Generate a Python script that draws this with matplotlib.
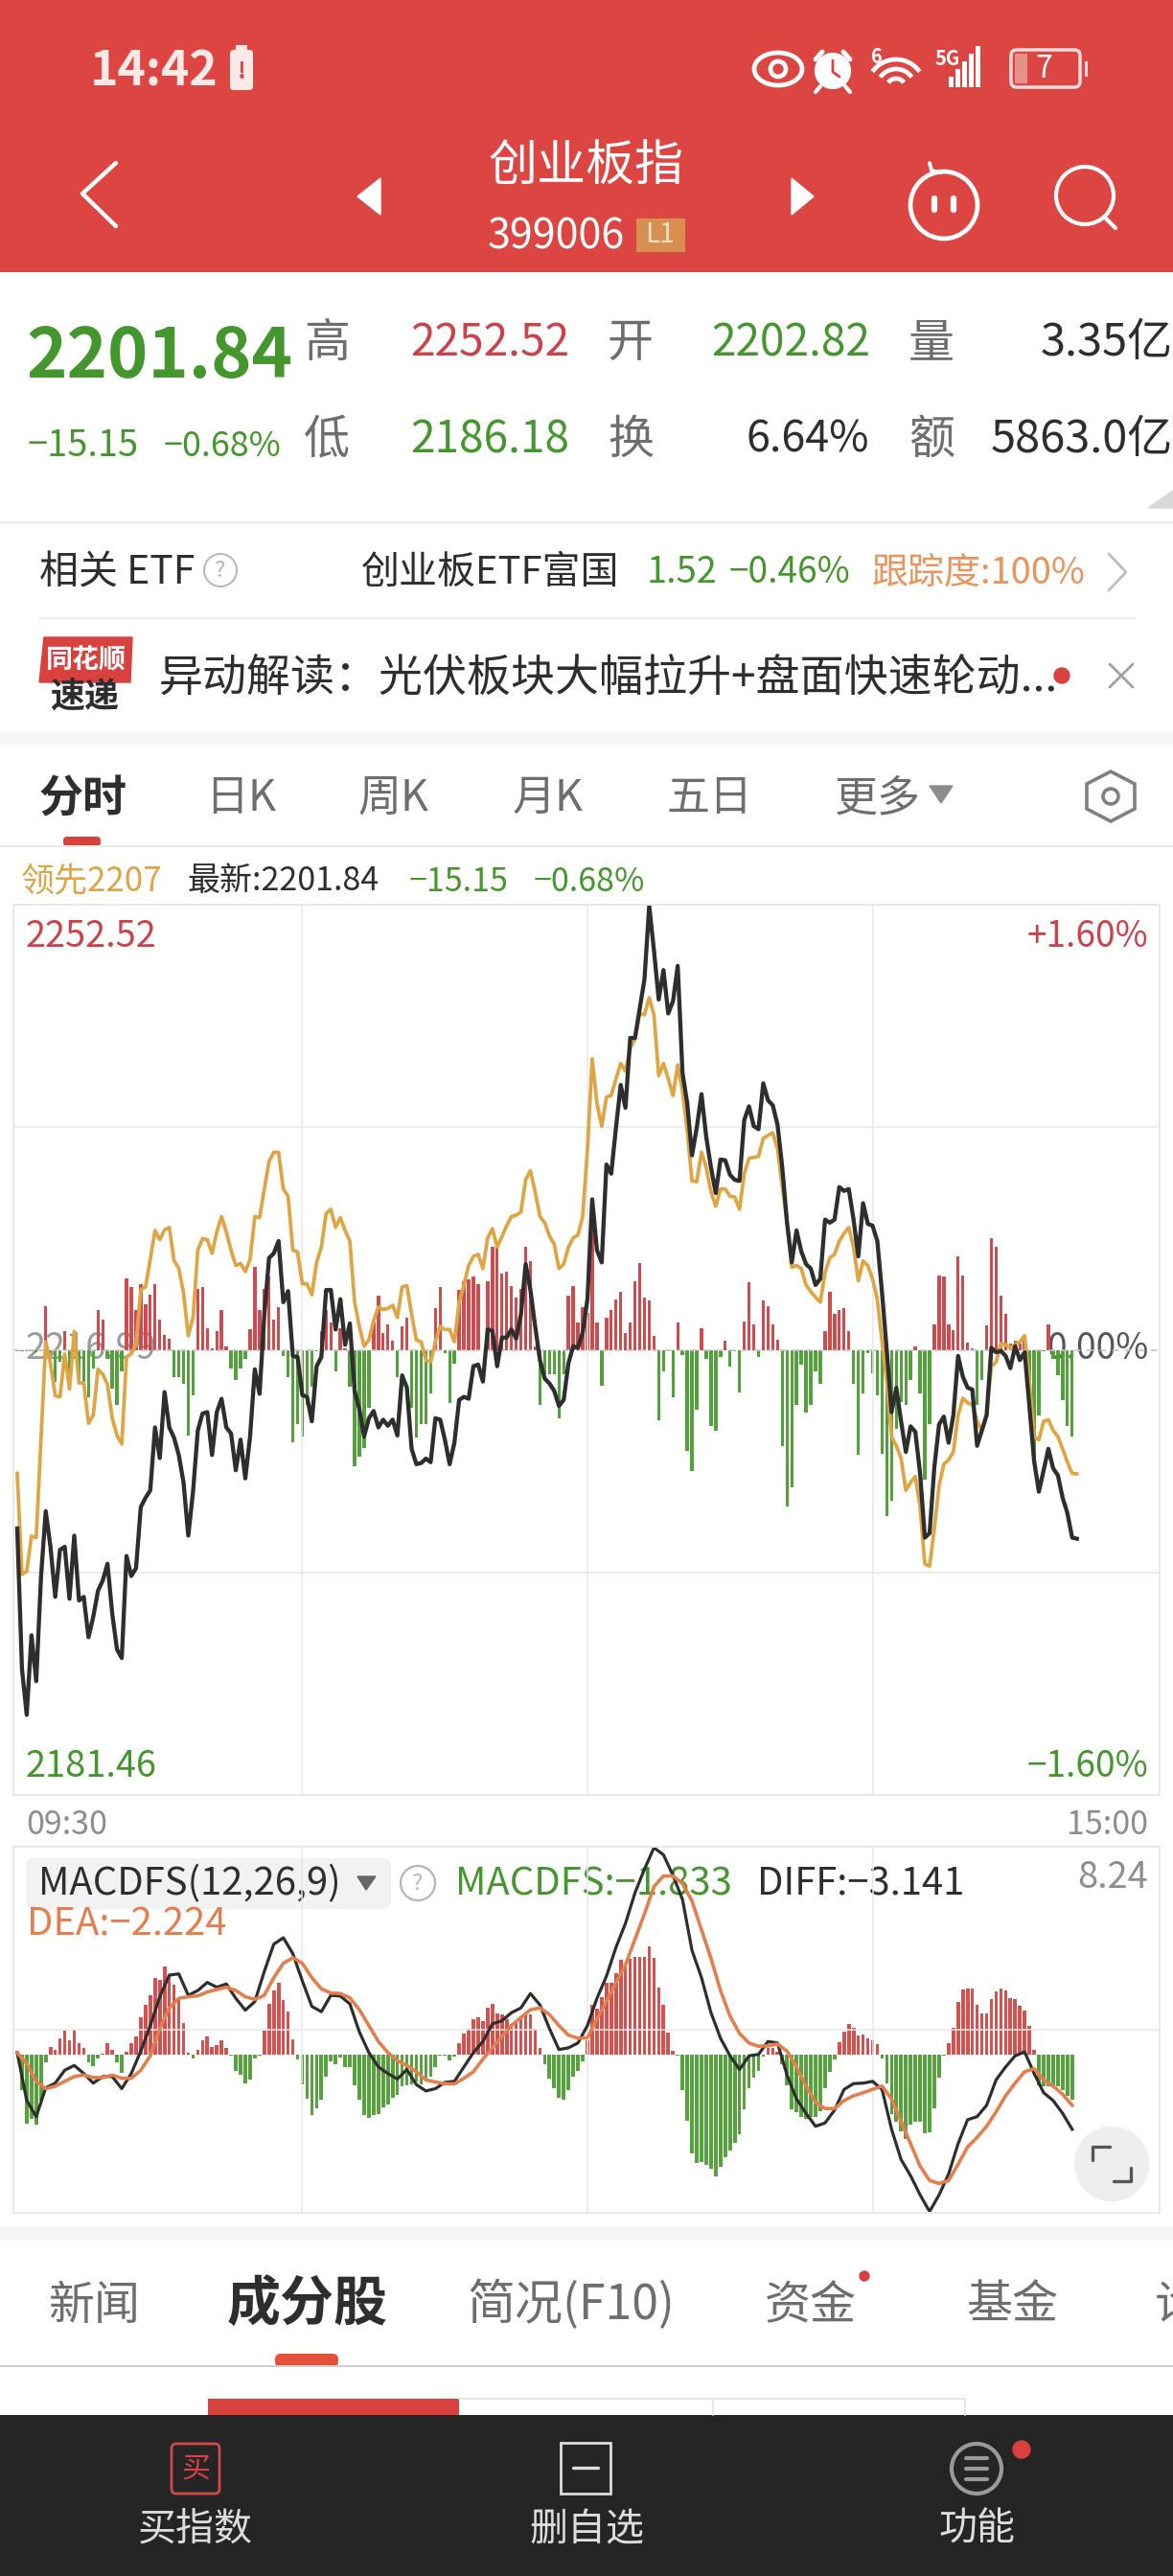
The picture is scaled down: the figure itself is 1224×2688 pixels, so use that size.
import numpy as np
import matplotlib
matplotlib.use('Agg')
import matplotlib.pyplot as plt
from matplotlib.patches import Rectangle, Circle, FancyBboxPatch, Polygon, Arc

plt.rcParams['font.family'] = ['Noto Sans CJK SC', 'DejaVu Sans']

# index line, % change from prior close, one reading per minute
index_pct = [
    -0.642, -1.147, -1.312, -1.026, -1.191, -0.818, -0.580, -0.708, -0.888, -0.719, -0.708, -0.895,
    -0.668, -0.901, -0.888, -1.033, -0.960, -0.866, -0.829, -0.769, -0.949, -1.077, -1.108, -0.741,
    -0.813, -0.785, -0.565, -0.532, -0.505, -0.279, -0.389, -0.152, -0.279, -0.316, -0.378, -0.477,
    -0.668, -0.510, -0.290, -0.229, -0.224, -0.378, -0.224, -0.176, -0.279, -0.301, -0.433, -0.323,
    -0.462, -0.312, -0.070, -0.158, 0.127, 0.330, 0.347, 0.391, 0.171, 0.211, -0.022, -0.026,
    -0.163, -0.169, -0.257, -0.059, -0.026, 0.215, 0.215, 0.073, 0.182, 0.018, 0.095, -0.147,
    -0.213, -0.312, -0.246, -0.220, -0.279, -0.251, -0.273, -0.251, -0.308, -0.092, -0.136, -0.356,
    -0.411, -0.407, -0.391, -0.404, -0.246, -0.251, -0.323, -0.411, -0.334, -0.180, -0.169, -0.176,
    -0.059, -0.053, -0.114, 0.073, 0.068, -0.059, 0.044, 0.044, 0.073, 0.040, 0.127, 0.308,
    0.215, 0.084, -0.037, -0.103, -0.121, -0.147, -0.202, -0.180, -0.048, 0.013, 0.007, 0.062,
    0.182, 0.541, 0.358, 0.314, 0.666, 0.633, 0.798, 0.952, 0.870, 1.121, 1.121, 1.226,
    1.332, 1.596, 1.435, 1.259, 1.365, 1.209, 1.253, 1.380, 0.996, 0.886, 0.699, 0.798,
    0.919, 0.765, 0.655, 0.563, 0.684, 0.681, 0.629, 0.611, 0.607, 0.826, 0.875, 0.804,
    0.793, 0.958, 0.897, 0.879, 0.809, 0.655, 0.457, 0.314, 0.429, 0.354, 0.308, 0.292,
    0.233, 0.255, 0.468, 0.457, 0.468, 0.585, 0.571, 0.578, 0.468, 0.336, 0.527, 0.453,
    0.446, 0.391, 0.204, -0.004, -0.224, -0.136, -0.257, -0.367, -0.275, -0.295, -0.444, -0.675,
    -0.659, -0.422, -0.268, -0.240, -0.334, -0.235, -0.022, -0.097, -0.136, -0.143, -0.345, -0.290,
    -0.235, 0.007, -0.009, -0.004, -0.022, -0.066, 0.013, -0.037, -0.009, -0.202, -0.400, -0.510,
    -0.433, -0.356, -0.426, -0.451, -0.532, -0.587, -0.675, -0.679,
]

# leader line (领先), same scale
leader_pct = [
    -0.444, -0.807, -0.796, -0.670, -0.675, -0.323, 0.029, -0.048, -0.165, -0.169, -0.015, -0.141,
    0.066, -0.119, -0.119, -0.264, -0.235, -0.070, -0.088, -0.125, -0.246, -0.308, -0.338, -0.026,
    -0.015, 0.018, 0.215, 0.226, 0.325, 0.429, 0.396, 0.431, 0.440, 0.321, 0.292, 0.204,
    0.051, 0.116, 0.358, 0.400, 0.396, 0.347, 0.424, 0.479, 0.424, 0.358, 0.303, 0.310,
    0.281, 0.325, 0.479, 0.475, 0.578, 0.677, 0.710, 0.710, 0.578, 0.552, 0.358, 0.352,
    0.237, 0.237, 0.198, 0.314, 0.369, 0.490, 0.505, 0.440, 0.475, 0.429, 0.391, 0.171,
    0.084, 0.013, 0.035, 0.105, 0.154, 0.145, 0.149, 0.160, 0.116, 0.226, 0.231, 0.127,
    0.035, 0.029, -0.037, -0.044, 0.029, 0.084, 0.073, 0.073, 0.029, 0.171, 0.233, 0.303,
    0.336, 0.343, 0.292, 0.402, 0.435, 0.369, 0.407, 0.446, 0.479, 0.484, 0.495, 0.611,
    0.644, 0.567, 0.479, 0.457, 0.409, 0.380, 0.292, 0.308, 0.369, 0.402, 0.413, 0.479,
    0.721, 1.046, 0.886, 0.804, 0.908, 0.914, 0.974, 1.029, 1.002, 1.084, 1.116, 1.209,
    1.204, 1.266, 1.204, 0.985, 1.029, 0.974, 0.914, 1.024, 0.930, 0.787, 0.607, 0.604,
    0.710, 0.655, 0.567, 0.516, 0.578, 0.578, 0.552, 0.549, 0.505, 0.633, 0.688, 0.692,
    0.695, 0.760, 0.771, 0.780, 0.721, 0.589, 0.457, 0.297, 0.303, 0.292, 0.233, 0.209,
    0.189, 0.171, 0.277, 0.330, 0.343, 0.391, 0.418, 0.440, 0.369, 0.248, 0.319, 0.303,
    0.255, 0.182, 0.029, -0.114, -0.312, -0.345, -0.389, -0.505, -0.477, -0.455, -0.565, -0.769,
    -0.778, -0.642, -0.488, -0.411, -0.396, -0.367, -0.235, -0.174, -0.191, -0.196, -0.257, -0.290,
    -0.235, -0.059, -0.044, 0.022, 0.018, 0.007, 0.018, 0.029, 0.051, -0.114, -0.312, -0.323,
    -0.257, -0.251, -0.290, -0.312, -0.356, -0.404, -0.444, -0.446,
]

# net flow bars under the price lines (raw units, axis +-728)
flow_bars = [
    -2, -2, -3, -3, -4, -3, 71, -6, -52, -20, 31, -40, 28, -50, -55, -78, -30, 65, 50, -15,
    -63, -90, -35, 116, 102, 65, 108, 75, 90, 108, 50, 25, 18, -45, -45, -55, -140, -75, 100, 102,
    35, 2, 30, 65, 5, -30, -50, -30, -15, 33, 135, 65, 100, 120, 50, 70, -10, -45, -152, -122,
    -142, -90, -60, -2, 30, 65, 45, -35, 35, 2, -60, -190, -175, -160, -95, 45, 88, 28, 42, 15,
    -45, 38, 52, -95, -143, -122, -122, -72, 68, 102, -5, -87, -22, 98, 112, 115, 120, 108, 0, 112,
    168, 168, 125, 128, 105, 85, 100, 168, 145, 5, -90, -40, -40, -40, -112, -40, 88, 105, 45, 70,
    60, 200, 45, -58, 52, 65, 82, 95, 28, 45, 112, 142, 85, 80, 22, -115, -35, -2, -78, 45,
    -8, -165, -198, -98, 35, -15, -125, -132, -12, 15, -28, -2, -70, 47, 110, 42, -12, 80, 72, 42,
    16, -158, -256, -225, -90, -25, -102, -90, -35, -55, 30, 95, 58, 65, 68, 30, -55, -172, -72, -5,
    -38, -75, -170, -272, -247, -130, -85, -90, -50, 5, -72, -212, -122, 42, 122, 120, 42, 32, 153, 122,
    12, 2, -90, -50, 40, 182, 168, 88, 58, 10, 15, 10, 25, -70, -180, -108, -2, 42, -15, -42,
    -82, -125, -142,
]

# MACD lines, read every second minute
diff_line = [
    0.08, -1.82, -2.46, -1.32, -1.13, -0.62, -0.43, -0.75, -1.13, -0.87, -0.87, -1.35, -0.75, 0.14,
    1.15, 2.29, 3.15, 3.20, 2.35, 2.54, 2.86, 2.67, 2.80, 2.23, 1.76, 2.10, 3.30, 4.38, 4.63, 4.00,
    2.92, 1.91, 1.70, 2.35, 2.32, 2.01, 0.90, 0.08, -0.49, -0.75, -0.97, -0.59, -1.19, -1.44, -1.35,
    -1.10, -1.06, -0.49, 0.08, 0.52, 1.22, 1.34, 1.66, 1.85, 2.42, 1.97, 1.03, 0.20, 0.27, 0.46, 1.15,
    2.23, 3.11, 4.25, 5.20, 6.41, 7.35, 8.20, 7.92, 7.10, 6.15, 4.13, 3.05, 1.66, 0.65, -0.05, -0.59,
    -0.05, 0.01, 0.52, 0.46, -0.81, -1.76, -2.33, -2.84, -2.71, -2.20, -1.38, -1.15, -1.13, -1.06,
    -1.38, -2.96, -4.16, -4.80, -5.56, -6.22, -5.56, -4.73, -3.53, -2.58, -2.46, -2.01, -1.00, -0.49,
    -0.05, 0.11, -0.75, -1.51, -1.82, -2.33, -2.96,
]
dea_line = [
    0.08, -0.37, -1.06, -1.35, -1.25, -1.06, -0.87, -0.81, -0.91, -0.91, -0.81, -0.94, -0.94, -0.62,
    -0.05, 1.03, 1.85, 2.23, 2.29, 2.33, 2.48, 2.58, 2.67, 2.54, 2.29, 2.19, 2.35, 3.05, 3.62, 3.84,
    3.62, 3.05, 2.61, 2.44, 2.42, 2.25, 1.78, 1.15, 0.52, 0.08, -0.24, -0.43, -0.68, -1.00, -1.09,
    -1.15, -1.16, -0.94, -0.68, -0.18, 0.27, 0.71, 1.15, 1.47, 1.78, 1.85, 1.59, 1.15, 0.77, 0.65, 0.67,
    1.41, 2.10, 2.86, 3.56, 4.57, 5.58, 6.66, 7.08, 7.08, 6.78, 6.09, 4.95, 3.81, 2.54, 1.53, 0.84,
    0.46, 0.33, 0.35, 0.42, 0.14, -0.49, -1.25, -1.89, -2.14, -2.14, -1.82, -1.63, -1.51, -1.38,
    -1.25, -1.76, -2.65, -3.53, -4.42, -4.99, -5.11, -4.99, -4.35, -3.66, -3.28, -2.84, -2.27, -1.63,
    -1.13, -0.68, -0.56, -1.00, -1.25, -1.57, -2.01,
]

# MACDFS histogram (raw units, axis -495..651)
macd_bars = [
    0, -110, -215, -200, -220, -145, -25, 25, 15, 50, 75, 45, 77, 35, 22, -25, -35, -12, 3, 37,
    15, -25, -58, 8, 35, 57, 118, 157, 185, 240, 235, 277, 250, 220, 170, 100, 6, -12, 15, 45,
    58, 25, 30, 45, 22, -3, -50, -62, -90, -78, -12, -4, 75, 160, 200, 225, 172, 135, 47, -15,
    -92, -138, -190, -168, -140, -70, -22, -30, -8, -38, -38, -95, -140, -190, -197, -190, -185, -165, -155, -135,
    -125, -100, -95, -92, -85, -92, -85, -70, -38, -4, -3, -18, -6, 35, 65, 80, 112, 118, 105, 148,
    160, 128, 125, 110, 95, 100, 115, 128, 125, 80, 22, -30, -75, -105, -135, -140, -112, -70, -50, -20,
    45, 155, 145, 180, 225, 225, 255, 297, 280, 300, 305, 305, 305, 340, 302, 210, 157, 70, 12, -3,
    -112, -208, -310, -338, -335, -345, -357, -382, -352, -320, -300, -277, -250, -172, -105, -72, -52, -5, 20, 22,
    8, -30, -97, -172, -180, -195, -200, -195, -195, -178, -105, -55, -15, 40, 72, 95, 85, 60, 62, 52,
    45, 32, -12, -90, -185, -210, -240, -265, -220, -210, -210, -245, -243, -168, -72, -2, 35, 85, 165, 205,
    208, 208, 155, 130, 128, 175, 197, 207, 200, 177, 175, 152, 138, 90, 15, -95, -100, -100, -100, -100,
    -110, -130, -140,
]

RED_HEAD = '#DC4541'
RED = '#C8444A'
GREEN = '#46962F'
GOLD = '#DDA544'
ORANGE = '#E27F4E'
DARK = '#2E2E2E'
GRAY = '#6E6E6E'
LIGHT = '#EAEAEA'
W, H = 1224, 2688

fig = plt.figure(figsize=(12.24, 26.88), dpi=100, facecolor='white')

# pixel-space layer for the phone screen around the charts
ui = fig.add_axes([0, 0, 1, 1], zorder=0)
ui.set_xlim(0, W)
ui.set_ylim(H, 0)
ui.axis('off')


def txt(x, y, s, px, color=DARK, ha='left', **kw):
    # +6: Noto sits a little high against the reference
    ui.text(x, y + 6, s, fontsize=px * 0.72, color=color, ha=ha, va='center', **kw)


def box(x0, y0, x1, y1, color, **kw):
    ui.add_patch(Rectangle((x0, y0), x1 - x0, y1 - y0, facecolor=color, edgecolor='none', **kw))


def pill(x0, y0, x1, y1, r, color):
    ui.add_patch(FancyBboxPatch((x0 + r, y0 + r), x1 - x0 - 2 * r, y1 - y0 - 2 * r,
                                boxstyle='round,pad=%g,rounding_size=%g' % (r, r),
                                facecolor=color, edgecolor='none'))


def stroke(xs, ys, color, lw=2.2, **kw):
    ui.plot(xs, ys, color=color, lw=lw, solid_capstyle='round', **kw)


def ring(x, y, r, color, lw=2.2, fill='none'):
    ui.add_patch(Circle((x, y), r, facecolor=fill, edgecolor=color, lw=lw))


# header
box(0, 0, W, 284, RED_HEAD)
txt(94, 69, '14:42', 50, '#FBE9E8', fontweight='bold')
pill(240, 52, 264, 94, 4, '#FBE9E8')
box(246, 47, 258, 52, '#FBE9E8')
txt(252, 69, '!', 24, RED_HEAD, ha='center', fontweight='bold')
ui.add_patch(Arc((812, 72), 50, 34, color='white', lw=3.4))
ring(812, 72, 8, 'white', 3.4)
ring(869, 74, 17, 'white', 3, 'white')
stroke([851, 858], [62, 54], 'white', 3.5)
stroke([887, 880], [62, 54], 'white', 3.5)
stroke([856, 851], [90, 96], 'white', 3)
stroke([882, 887], [90, 96], 'white', 3)
stroke([869, 869, 876], [63, 75, 80], RED_HEAD, 2)
for r in [10, 20, 30]:
    ui.add_patch(Arc((935, 92), 2 * r, 2 * r, theta1=215, theta2=325, color='white', lw=3.4))
txt(909, 54, '6', 20, 'white', fontweight='bold')
txt(975, 56, '5G', 20, 'white', fontweight='bold')
for i, top in enumerate([80, 72, 64, 56, 48]):
    box(990 + i * 7, top, 995 + i * 7, 91, 'white')
ui.add_patch(FancyBboxPatch((1058, 55), 66, 33, boxstyle='round,pad=3,rounding_size=6',
                            facecolor='none', edgecolor='#F8DEDC', lw=2.5))
box(1059, 56, 1072, 87, '#E98F8A')
txt(1089, 66, '7', 32, 'white', ha='center')
box(1132, 64, 1135, 80, '#F8DEDC')
stroke([121, 86, 121], [170, 202, 236], 'white', 3.2)
ui.add_patch(Polygon([(397, 186), (373, 205), (397, 224)], color='white'))
ui.add_patch(Polygon([(826, 186), (849, 205), (826, 224)], color='white'))
txt(612, 168, '创业板指', 51, 'white', ha='center')
txt(509, 242, '399006', 43, 'white')
box(664, 228, 715, 263, '#D68F50')
txt(689, 239, 'L1', 28, '#F6E3C8', ha='center')
ring(985, 214, 35, 'white', 3.4)
stroke([975, 975], [207, 219], 'white', 4.5)
stroke([995, 995], [207, 219], 'white', 4.5)
stroke([970, 972, 982], [170, 178, 180], 'white', 2.8)
ring(1132, 204, 30, 'white', 3)
stroke([1152, 1164], [226, 238], 'white', 3)

# quote block
txt(27, 367, '2201.84', 72, GREEN, fontweight='bold')
txt(29, 460, '−15.15', 38, GREEN)
txt(171, 460, '−0.68%', 36, GREEN)
for x, y, s in [(317, 352, '高'), (634, 352, '开'), (948, 352, '量'),
                (317, 453, '低'), (634, 453, '换'), (948, 453, '额')]:
    txt(x, y, s, 48, GRAY)
txt(428, 352, '2252.52', 46, RED)
txt(742, 352, '2202.82', 46, GREEN)
txt(1224, 352, '3.35亿', 47, DARK, ha='right')
txt(428, 453, '2186.18', 46, GREEN)
txt(907, 453, '6.64%', 45, DARK, ha='right')
txt(1224, 453, '5863.0亿', 47, DARK, ha='right')
ui.add_patch(Polygon([(1224, 512), (1198, 530), (1224, 530)], color='#D8D8D8'))
box(0, 544, W, 546, LIGHT)

# etf row
txt(41, 592, '相关 ETF', 41, DARK)
ring(230, 595, 17, '#B5B5B5', 1.4)
txt(230, 590, '?', 24, '#B5B5B5', ha='center')
txt(377, 592, '创业板ETF富国', 40, DARK)
txt(675, 592, '1.52', 38, GREEN)
txt(761, 592, '−0.46%', 37, GREEN)
txt(910, 592, '跟踪度:100%', 38, '#E8945C')
stroke([1157, 1175, 1157], [578, 597, 616], '#BDBDBD', 2)
box(40, 644, 1185, 646, '#EFEFEF')

# news row
ui.add_patch(Polygon([(46, 665), (138, 665), (136, 712), (41, 712)], color='#D8413D'))
txt(90, 683, '同花顺', 28, 'white', ha='center', fontstyle='italic', fontweight='bold')
txt(88, 722, '速递', 36, DARK, ha='center', fontstyle='italic', fontweight='bold')
txt(166, 702, '异动解读：光伏板块大幅拉升+盘面快速轮动...', 46, DARK)
ring(1108, 705, 8, '#D8413D', 1, '#D8413D')
stroke([1158, 1182], [693, 717], '#A0A0A0', 2)
stroke([1158, 1182], [717, 693], '#A0A0A0', 2)
box(0, 764, W, 777, '#F5F5F5')

# period tabs
txt(41, 827, '分时', 46, DARK, fontweight='bold')
for x, s in [(214, '日K'), (374, '周K'), (535, '月K'), (696, '五日'), (871, '更多')]:
    txt(x, 827, s, 45, GRAY)
ui.add_patch(Polygon([(970, 820), (994, 820), (982, 838)], color='#8C8C8C'))
ui.add_patch(Polygon([(1159, 805), (1184, 818), (1184, 844), (1159, 857), (1134, 844), (1134, 818)],
                     facecolor='none', edgecolor='#808080', lw=2.6))
ring(1159, 831, 8, '#808080', 2.6)
pill(66, 873, 105, 883, 4, '#D8413D')
box(0, 882, W, 884, LIGHT)

txt(22, 914, '领先2207', 35, GOLD)
txt(195, 914, '最新:2201.84', 34, DARK)
txt(427, 914, '−15.15', 34, GREEN)
txt(557, 914, '−0.68%', 34, GREEN)

# labels that sit under the drawn lines
txt(27, 972, '2252.52', 38, RED)
txt(1198, 972, '+1.60%', 37, RED, ha='right')
txt(27, 1838, '2181.46', 38, GREEN)
txt(1198, 1838, '−1.60%', 37, GREEN, ha='right')
txt(27, 1401, '2216.99', 38, '#9C9C9C')
txt(1198, 1401, '0.00%', 37, '#555555', ha='right')
txt(27, 1898, '09:30', 34, '#8E8E8E')
txt(1198, 1898, '15:00', 34, '#8E8E8E', ha='right')

pill(27, 1939, 408, 1992, 8, '#F2F2F2')
txt(40, 1960, 'MACDFS(12,26,9)', 40, DARK)
ui.add_patch(Polygon([(373, 1958), (392, 1958), (382, 1972)], color='#666666'))
ring(436, 1965, 18, '#B5B5B5', 1.6)
txt(436, 1960, '?', 24, '#B5B5B5', ha='center')
txt(475, 1960, 'MACDFS:−1.833', 40, GREEN)
txt(790, 1960, 'DIFF:−3.141', 40, DARK)
txt(28, 2002, 'DEA:−2.224', 40, ORANGE)
txt(1198, 1954, '8.24', 38, '#8E8E8E', ha='right')

# main chart
left, right, top, bottom = 14, 1210, 944, 1873
ax = fig.add_axes([left / W, 1 - bottom / H, (right - left) / W, (bottom - top) / H], zorder=3)
ax_flow = ax.twinx()
ax.set_zorder(ax_flow.get_zorder() + 1)
ax.patch.set_visible(False)
ax_flow.patch.set_visible(False)

minutes = np.arange(len(index_pct))
flow = np.array(flow_bars)
flow_x = np.arange(len(flow))
ax_flow.bar(flow_x, flow, width=0.68, color=np.where(flow >= 0, '#CC4C50', '#53A03C'))
ax_flow.set_ylim(-728, 728)
ax_flow.set_yticks([])
ax.plot(np.arange(len(leader_pct)), leader_pct, color=GOLD, lw=2.7, solid_joinstyle='round')
ax.plot(minutes, index_pct, color=DARK, lw=3.1, solid_joinstyle='round')
ax.set_xlim(-0.8, 240.4)
ax.set_ylim(-1.6, 1.6)
ax.set_xticks([60, 120, 180])
ax.set_yticks([-0.8, 0.8])
ax.tick_params(length=0, labelbottom=False, labelleft=False)
ax.grid(True, color='#E8E8E8', lw=1.1)
ax.set_axisbelow(True)
ax.axhline(0, color='#C4C4C4', lw=1.2, ls=(0, (4, 4)), zorder=0)
for a in (ax, ax_flow):
    for s in a.spines.values():
        s.set_color('#E8E8E8')
        s.set_linewidth(1.4)

# macd chart
top2, bottom2 = 1927, 2309
ax2 = fig.add_axes([left / W, 1 - bottom2 / H, (right - left) / W, (bottom2 - top2) / H], zorder=3)
ax2_bar = ax2.twinx()
ax2.set_zorder(ax2_bar.get_zorder() + 1)
ax2.patch.set_visible(False)
ax2_bar.patch.set_visible(False)

hist = np.array(macd_bars)
ax2_bar.bar(np.arange(len(hist)), hist, width=0.74, color=np.where(hist >= 0, '#D1524F', '#57A23E'))
ax2_bar.set_ylim(-495, 651)
ax2_bar.set_yticks([])
step_x = np.arange(len(diff_line)) * 2
ax2.plot(step_x, diff_line, color=DARK, lw=2.3)
ax2.plot(np.arange(len(dea_line)) * 2, dea_line, color=ORANGE, lw=2.6)
ax2.set_xlim(-0.8, 240.4)
ax2.set_ylim(-6.27, 8.24)
ax2.set_xticks([60, 120, 180])
ax2.set_yticks([0.985])
ax2.tick_params(length=0, labelbottom=False, labelleft=False)
ax2.grid(True, color='#E8E8E8', lw=1.1)
ax2.set_axisbelow(True)
for a in (ax2, ax2_bar):
    for s in a.spines.values():
        s.set_color('#E8E8E8')
        s.set_linewidth(1.4)

# expand button
ring(1160, 2258, 39, '#EEEEEE', 0.5, '#EEEEEE')
stroke([1140, 1140, 1158], [2254, 2240, 2240], '#555555', 2.4)
stroke([1162, 1180, 1180], [2276, 2276, 2262], '#555555', 2.4)

# lower tabs
box(0, 2323, W, 2337, '#F5F5F5')
txt(50, 2400, '新闻', 48, GRAY)
txt(237, 2400, '成分股', 56, DARK, fontweight='bold')
txt(488, 2400, '简况(F10)', 50, GRAY)
txt(798, 2400, '资金', 48, GRAY)
ring(902, 2375, 5, '#D8413D', 1, '#D8413D')
txt(1008, 2400, '基金', 48, GRAY)
txt(1205, 2400, '诊', 48, GRAY)
pill(287, 2456, 353, 2470, 6, '#E5503C')
box(0, 2468, W, 2470, '#CFCFCF')
box(217, 2503, 479, 2520, '#D8413D')
ui.plot([479, 1007, 1007], [2503, 2503, 2520], color='#E2E2E2', lw=1.2)
ui.plot([744, 744], [2503, 2520], color='#E2E2E2', lw=1.2)

# bottom bar
box(0, 2520, W, H, '#252525')
ui.add_patch(FancyBboxPatch((181, 2552), 46, 48, boxstyle='round,pad=2,rounding_size=5',
                            facecolor='none', edgecolor='#D04A48', lw=2))
txt(204, 2570, '买', 30, '#D8404A', ha='center')
txt(204, 2634, '买指数', 40, '#DDDDDD', ha='center')
ui.add_patch(Rectangle((585, 2549), 52, 53, facecolor='none', edgecolor='#DDDDDD', lw=2))
stroke([598, 624], [2575, 2575], '#DDDDDD', 2.4)
txt(612, 2634, '删自选', 40, '#DDDDDD', ha='center')
ring(1019, 2576, 26, '#9A9A9A', 3)
for y in [2565, 2576, 2587]:
    stroke([1008, 1030], [y, y], '#9A9A9A', 3)
ring(1066, 2556, 9, '#D8413D', 1, '#D8413D')
txt(1019, 2634, '功能', 40, '#DDDDDD', ha='center')

fig.savefig('out.png', dpi=100)
